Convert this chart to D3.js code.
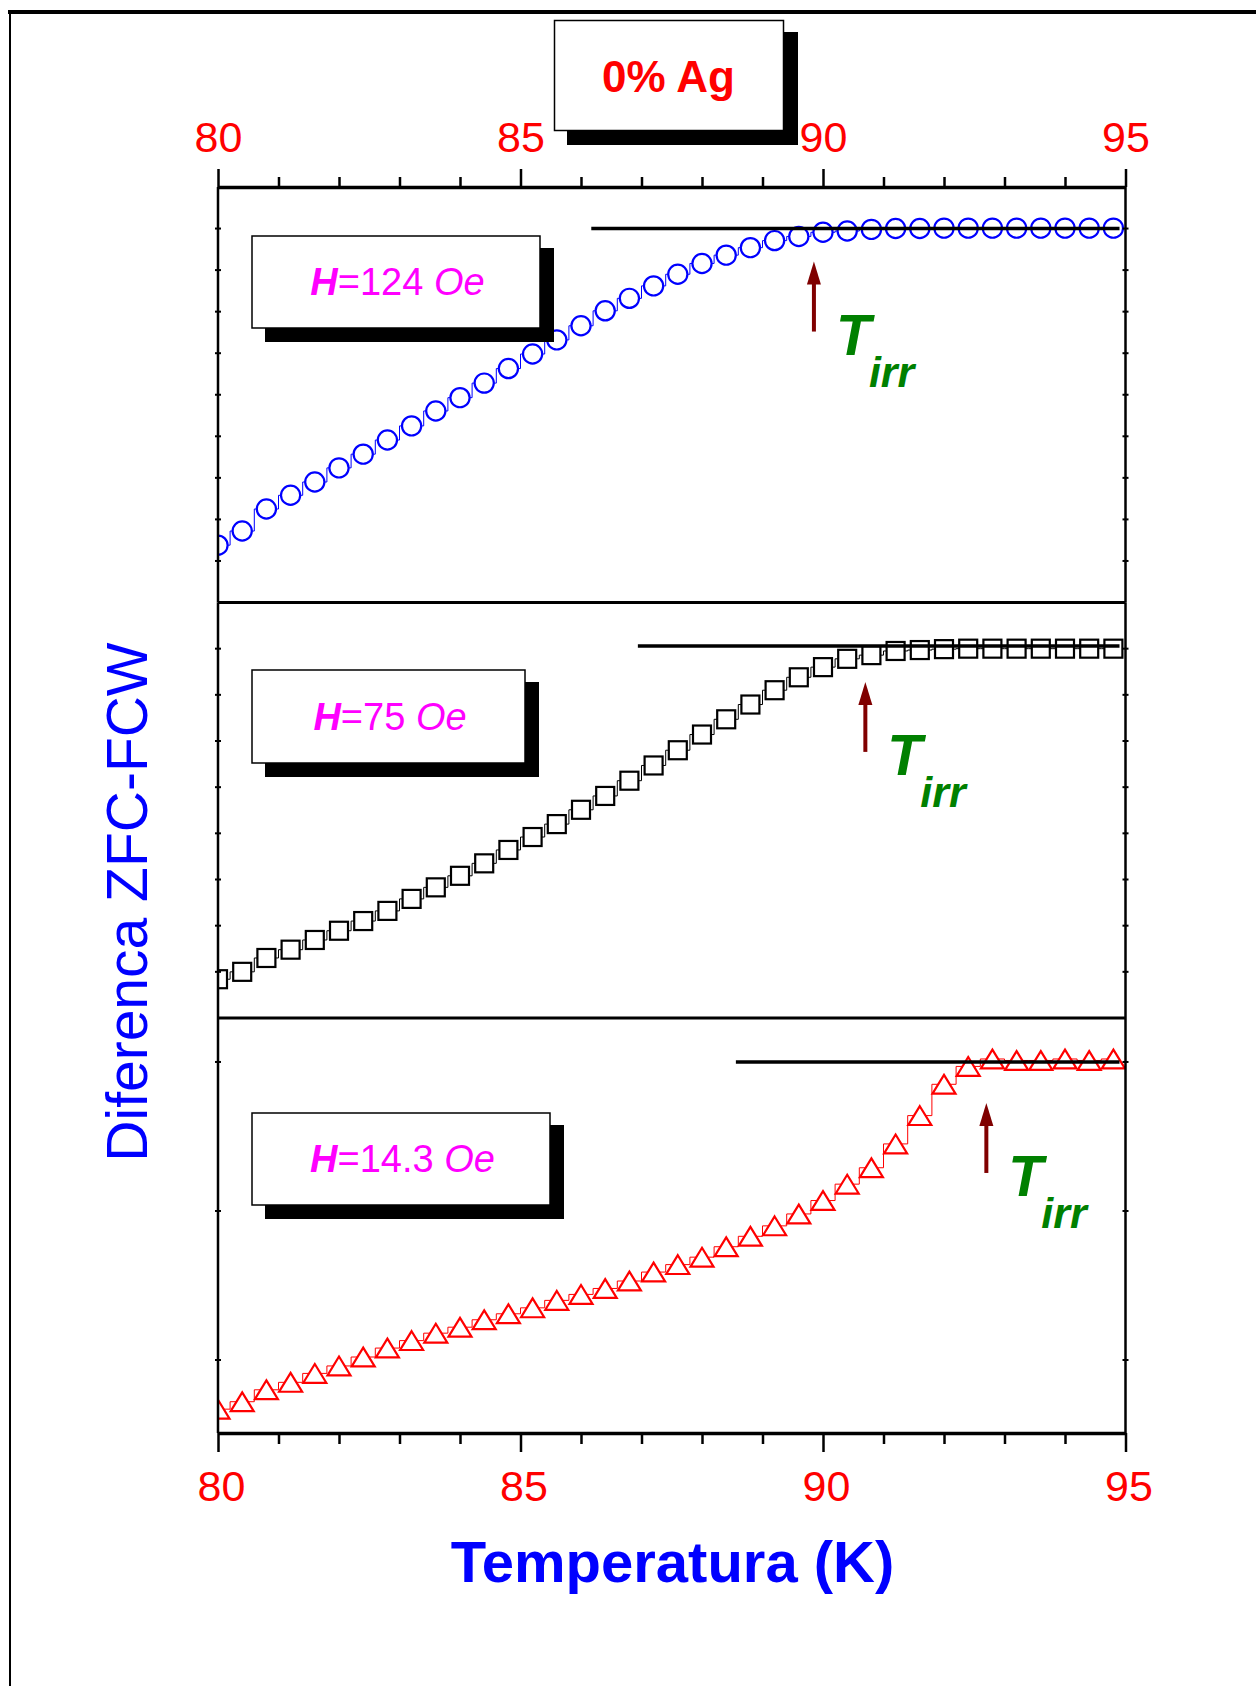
<!DOCTYPE html>
<html>
<head>
<meta charset="utf-8">
<script src="https://cdn.jsdelivr.net/npm/d3@7"></script>
<style>
  body { margin: 0; background: #fff; }
  text { font-family: "Liberation Sans", Arial, Helvetica, sans-serif; white-space: pre; }
</style>
</head>
<body>
<svg id="chart" width="1256" height="1686"></svg>
<script>
// Temperature grid (K)
const temperatures = [80.0, 80.4, 80.8, 81.2, 81.6, 82.0, 82.4, 82.8, 83.2, 83.6,
  84.0, 84.4, 84.8, 85.2, 85.6, 86.0, 86.4, 86.8, 87.2, 87.6,
  88.0, 88.4, 88.8, 89.2, 89.6, 90.0, 90.4, 90.8, 91.2, 91.6,
  92.0, 92.4, 92.8, 93.2, 93.6, 94.0, 94.4, 94.8];

// ZFC - FCW difference (arbitrary units) for each applied field
const diff124 = [1.38, 1.72, 2.25, 2.58, 2.90, 3.24, 3.57, 3.91, 4.25, 4.61,
  4.93, 5.28, 5.63, 5.98, 6.32, 6.66, 7.02, 7.32, 7.62, 7.90,
  8.16, 8.36, 8.54, 8.71, 8.81, 8.91, 8.94, 8.98, 9.00, 9.00,
  9.01, 9.01, 9.01, 9.01, 9.01, 9.01, 9.01, 9.01];
const diff75 = [0.84, 1.00, 1.30, 1.48, 1.69, 1.89, 2.10, 2.32, 2.58, 2.83,
  3.08, 3.35, 3.64, 3.92, 4.20, 4.51, 4.81, 5.14, 5.47, 5.80,
  6.14, 6.47, 6.79, 7.10, 7.38, 7.60, 7.78, 7.86, 7.95, 7.97,
  7.99, 8.00, 8.00, 8.00, 8.00, 8.00, 8.00, 8.00];
const diff14 = [0.67, 0.72, 0.80, 0.85, 0.91, 0.96, 1.02, 1.08, 1.13, 1.18,
  1.22, 1.27, 1.31, 1.35, 1.40, 1.44, 1.48, 1.53, 1.59, 1.64,
  1.69, 1.76, 1.83, 1.90, 1.98, 2.07, 2.18, 2.29, 2.45, 2.64,
  2.85, 2.97, 3.02, 3.01, 3.01, 3.02, 3.01, 3.02];

// Applied fields (Oe)
const fields = ["124", "75", "14.3"];
// Irreversibility temperatures (K)
const tirr = [89.85, 90.7, 92.7];
// Reversible-level reference lines: start temperature and level
const levelStart = [86.17, 86.94, 88.56];
const levelValue = [9.00, 8.06, 3.00];

// Axis ticks
const majorTicks = [80, 85, 90, 95];
const minorTicks = [81, 82, 83, 84, 86, 87, 88, 89, 91, 92, 93, 94];

// ---------------------------------------------------------------
const svg = d3.select("#chart");
const plotLeft = 218, plotRight = 1125.5;
const x = d3.scaleLinear().domain([80, 95]).range([plotLeft, plotRight]);

const panels = [
  { values: diff124, color: "#0000ff", marker: "circle", top: 187, bottom: 602.5,
    domain: [0, 10], yticks: [1, 2, 3, 4, 5, 6, 7, 8, 9],
    box: { x: 252, y: 236, w: 288, h: 92 }, arrowTip: 33 },
  { values: diff75, color: "#000000", marker: "square", top: 602.5, bottom: 1018,
    domain: [0, 9], yticks: [1, 2, 3, 4, 5, 6, 7, 8],
    box: { x: 252, y: 670, w: 273, h: 93 }, arrowTip: 36 },
  { values: diff14, color: "#ff0000", marker: "triangle", top: 1018, bottom: 1433,
    domain: [0.51, 3.295], yticks: [1, 2, 3],
    box: { x: 252, y: 1113, w: 298, h: 92 }, arrowTip: 41 }
];

const defs = svg.append("defs");

// outer page frame
svg.append("line").attr("x1", 8).attr("x2", 1256).attr("y1", 12).attr("y2", 12)
  .attr("stroke", "#000").attr("stroke-width", 4);
svg.append("line").attr("x1", 10).attr("x2", 10).attr("y1", 10).attr("y2", 1686)
  .attr("stroke", "#000").attr("stroke-width", 2);

panels.forEach((p, i) => {
  const y = d3.scaleLinear().domain(p.domain).range([p.bottom, p.top]);
  const g = svg.append("g");

  const clipId = "clip" + i;
  defs.append("clipPath").attr("id", clipId).append("rect")
    .attr("x", plotLeft).attr("y", p.top)
    .attr("width", plotRight - plotLeft).attr("height", p.bottom - p.top);

  const pts = temperatures.map((t, k) => ({ t, v: p.values[k] }));
  const data = g.append("g").attr("clip-path", `url(#${clipId})`);

  // thin connecting trace
  data.append("path").datum(pts)
    .attr("d", d3.line().x(d => x(d.t)).y(d => y(d.v)).curve(d3.curveStep))
    .attr("fill", "none").attr("stroke", p.color).attr("stroke-width", 1);

  // hollow markers
  const m = data.selectAll(".pt").data(pts).join("g")
    .attr("transform", d => `translate(${x(d.t)},${y(d.v)})`);
  if (p.marker === "circle") {
    m.append("circle").attr("r", 9.6);
  } else if (p.marker === "square") {
    m.append("rect").attr("x", -9).attr("y", -9).attr("width", 18).attr("height", 18);
  } else {
    m.append("path").attr("d", "M0,-9.4L11.5,9.4L-11.5,9.4Z");
  }
  m.selectAll("*").attr("fill", "#fff").attr("stroke", p.color).attr("stroke-width", 2.2);

  // reversible level line
  const ly = y(levelValue[i]);
  g.append("line").attr("x1", x(levelStart[i])).attr("x2", plotRight - 6)
    .attr("y1", ly).attr("y2", ly)
    .attr("stroke", "#000").attr("stroke-width", 3.5);

  // left/right frame with small ticks
  [plotLeft, plotRight].forEach(px => {
    g.append("line").attr("x1", px).attr("x2", px).attr("y1", p.top).attr("y2", p.bottom)
      .attr("stroke", "#000").attr("stroke-width", 2.5);
    g.selectAll(null).data(p.yticks).join("line")
      .attr("x1", px - 3).attr("x2", px + 3)
      .attr("y1", d => y(d)).attr("y2", d => y(d))
      .attr("stroke", "#000").attr("stroke-width", 2);
  });

  // irreversibility arrow
  const ax = x(tirr[i]);
  const tipY = ly + p.arrowTip;
  g.append("line").attr("x1", ax).attr("x2", ax).attr("y1", tipY + 18).attr("y2", tipY + 70)
    .attr("stroke", "#800000").attr("stroke-width", 4);
  g.append("path")
    .attr("d", `M${ax},${tipY}L${ax - 7},${tipY + 23}L${ax + 7},${tipY + 23}Z`)
    .attr("fill", "#800000");
  g.append("text").attr("x", ax + 22).attr("y", tipY + 93)
    .attr("font-size", 57).attr("font-weight", "bold").attr("font-style", "italic")
    .attr("fill", "#008000").text("T");
  g.append("text").attr("x", ax + 55).attr("y", tipY + 125)
    .attr("font-size", 43).attr("font-weight", "bold").attr("font-style", "italic")
    .attr("fill", "#008000").text("irr");

  // field label box with drop shadow
  const b = p.box;
  g.append("rect").attr("x", b.x + 13).attr("y", b.y + 12).attr("width", b.w + 1).attr("height", b.h + 2)
    .attr("fill", "#000");
  g.append("rect").attr("x", b.x).attr("y", b.y).attr("width", b.w).attr("height", b.h)
    .attr("fill", "#fff").attr("stroke", "#000").attr("stroke-width", 1.5);
  const lbl = g.append("text").attr("x", b.x + b.w / 2 + 1.5).attr("y", b.y + b.h / 2 + 13)
    .attr("text-anchor", "middle").attr("font-size", 38).attr("fill", "#ff00ff");
  lbl.append("tspan").attr("font-weight", "bold").attr("font-style", "italic").text("H");
  lbl.append("tspan").text("=" + fields[i] + " ");
  lbl.append("tspan").attr("font-style", "italic").text("Oe");
});

// panel separators
[602.5, 1018].forEach(yy => {
  svg.append("line").attr("x1", plotLeft).attr("x2", plotRight).attr("y1", yy).attr("y2", yy)
    .attr("stroke", "#000").attr("stroke-width", 3);
});

// top temperature axis
function styleAxis(sel) {
  sel.select(".domain").attr("stroke", "#000").attr("stroke-width", 3.5);
  sel.selectAll(".tick line").attr("stroke", "#000").attr("stroke-width", 2.5);
  sel.selectAll(".tick text").attr("fill", "#ff0000").attr("font-size", 43)
    .attr("font-family", '"Liberation Sans", Arial, sans-serif');
}
const topAxis = svg.append("g").attr("transform", "translate(0,187)")
  .call(d3.axisTop(x).tickValues(majorTicks).tickSize(18).tickSizeOuter(0).tickPadding(17).tickFormat(d3.format("d")));
styleAxis(topAxis);
svg.append("g").attr("transform", "translate(0,187)")
  .call(d3.axisTop(x).tickValues(minorTicks).tickSize(10).tickFormat(""))
  .call(s => { s.select(".domain").remove(); s.selectAll(".tick line").attr("stroke-width", 2.5); });

// bottom temperature axis
const bottomAxis = svg.append("g").attr("transform", "translate(0,1433)")
  .call(d3.axisBottom(x).tickValues(majorTicks).tickSize(19).tickSizeOuter(0).tickPadding(18).tickFormat(d3.format("d")));
styleAxis(bottomAxis);
bottomAxis.selectAll(".tick text").attr("dx", 3);
svg.append("g").attr("transform", "translate(0,1433)")
  .call(d3.axisBottom(x).tickValues(minorTicks).tickSize(11).tickFormat(""))
  .call(s => { s.select(".domain").remove(); s.selectAll(".tick line").attr("stroke-width", 2.5); });

// sample label
svg.append("rect").attr("x", 567).attr("y", 32).attr("width", 231).attr("height", 113).attr("fill", "#000");
svg.append("rect").attr("x", 554.5).attr("y", 20.5).attr("width", 229).attr("height", 110)
  .attr("fill", "#fff").attr("stroke", "#000").attr("stroke-width", 1.5);
svg.append("text").attr("x", 668.5).attr("y", 91.5).attr("text-anchor", "middle")
  .attr("font-size", 44).attr("font-weight", "bold").attr("fill", "#ff0000").text("0% Ag");

// axis titles
svg.append("text").attr("x", 672.5).attr("y", 1582).attr("text-anchor", "middle")
  .attr("font-size", 58).attr("font-weight", "bold").attr("fill", "#0000ff").text("Temperatura (K)");
svg.append("text").attr("transform", "translate(147,902) rotate(-90)").attr("text-anchor", "middle")
  .attr("font-size", 57).attr("fill", "#0000ff").text("Diferenca ZFC-FCW");
</script>
</body>
</html>
